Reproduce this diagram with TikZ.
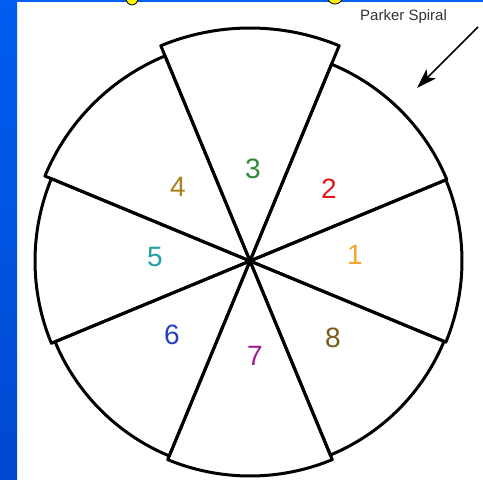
\documentclass[tikz,border=0pt]{standalone}
\usepackage{fontspec}
\setmainfont{Liberation Sans}
\usetikzlibrary{arrows.meta,calc}
\definecolor{bgblue}{HTML}{005EF0}
\definecolor{bgblueb}{HTML}{0048D0}
\definecolor{cone}{HTML}{F2A62A}
\definecolor{ctwo}{HTML}{E0191E}
\definecolor{cthree}{HTML}{2E8A3A}
\definecolor{cfour}{HTML}{A8801E}
\definecolor{cfive}{HTML}{22A2A2}
\definecolor{csix}{HTML}{2240C0}
\definecolor{cseven}{HTML}{A0208E}
\definecolor{ceight}{HTML}{7A5A18}
\definecolor{titleyellow}{HTML}{FFF200}
\tikzset{
  wedge/.style={draw=black, line width=3pt, line join=round},
  num/.style={font=\fontsize{28}{30}\selectfont, inner sep=0pt},
  caption/.style={font=\fontsize{15}{17}\selectfont, text=black!80, inner sep=0pt},
  spiralarrow/.style={draw=black, line width=1.6pt, -{Stealth[length=20pt,width=13pt,inset=5pt]}},
  frag/.style={fill=titleyellow, draw=black, line width=0.8pt}
}
\begin{document}
\begin{tikzpicture}[x=1pt,y=1pt]
\useasboundingbox (0,0) rectangle (483,480);
\fill[white] (0,0) rectangle (483,480);
% blue frame
\shade[top color=bgblue, bottom color=bgblueb] (0,0) rectangle (17,480);
\fill[bgblue] (0,477.5) rectangle (483,480);
% title fragments (cut off)
\begin{scope}
\clip (0,0) rectangle (483,480);
\draw[frag] (132,482) ellipse[x radius=6, y radius=7];
\draw[frag] (335,482) ellipse[x radius=7, y radius=6];
\end{scope}
% pie wedges
\coordinate (C) at (250,219);
\foreach \th/\r in {0/212, 45/213, 90/233, 135/222, 180/215, 225/211, 270/215, 315/210}{
  \draw[wedge] (C) -- ($(C)+(\th-22.5:\r)$) arc[start angle=\th-22.5, end angle=\th+22.5, radius=\r] -- cycle;
}
% labels
\node[num, text=cone]   (n1) at (355,225) {1};
\node[num, text=ctwo]   (n2) at (329,291) {2};
\node[num, text=cthree] (n3) at (253,311) {3};
\node[num, text=cfour]  (n4) at (178,293) {4};
\node[num, text=cfive]  (n5) at (155,223) {5};
\node[num, text=csix]   (n6) at (172,145) {6};
\node[num, text=cseven] (n7) at (255,124) {7};
\node[num, text=ceight] (n8) at (333,142) {8};
% Parker spiral arrow
\node[caption, anchor=west] (ps) at (360,463) {Parker Spiral};
\coordinate (as) at (478,453);
\coordinate (ae) at (417,392);
\draw[spiralarrow] (as) -- (ae);
\end{tikzpicture}
\end{document}
